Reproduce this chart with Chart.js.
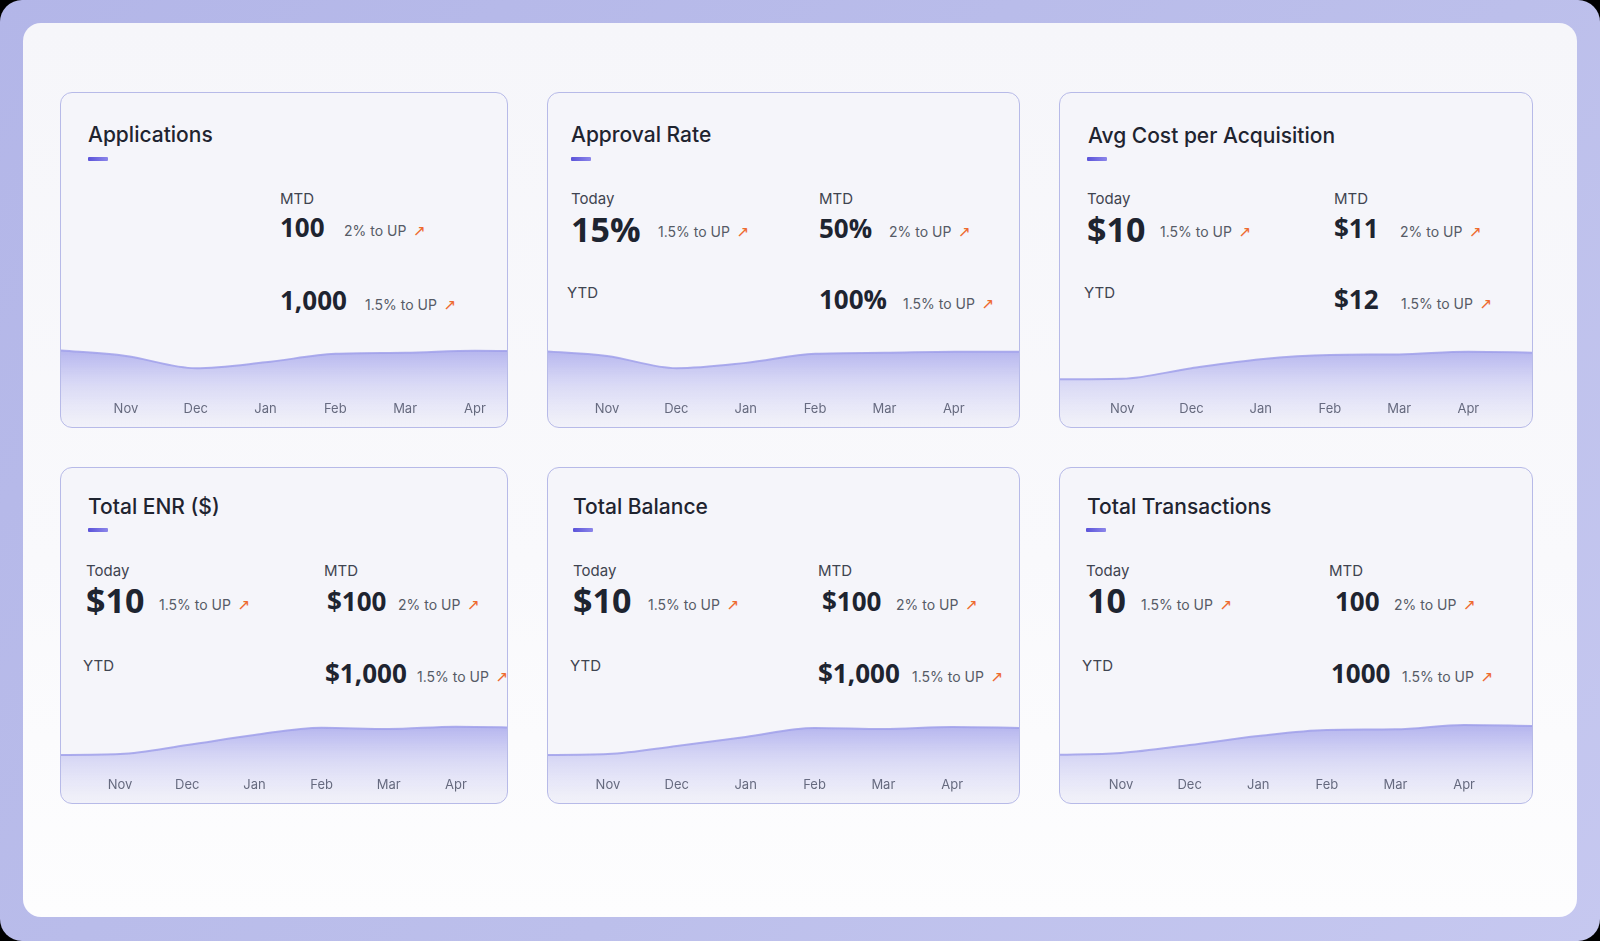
<!DOCTYPE html>
<html>
<head>
<meta charset="utf-8">
<script src="https://cdn.jsdelivr.net/npm/chart.js@4/dist/chart.umd.min.js"></script>
<style>
    html, body { margin: 0; padding: 0; background: #000; }
    .frame {
        position: relative; width: 1600px; height: 941px; overflow: hidden;
        border-radius: 22px;
        background: linear-gradient(135deg, #b3b6e8 0%, #bcbfeb 60%, #c6c8f0 100%);
    }
    .panel {
        position: absolute; left: 23px; top: 23px; width: 1554px; height: 894px;
        border-radius: 18px;
        background: linear-gradient(180deg, #f6f6fa 0%, #f9f9fc 60%, #fdfdfe 100%);
    }
    .card {
        position: absolute; box-sizing: border-box; overflow: hidden;
        border: 1px solid #b7bae8; border-radius: 12px;
        background: #f5f5fa;
    }
    .t { position: absolute; white-space: nowrap; line-height: 1; }
    .title { font: 500 21px Inter, sans-serif; color: #1f2430; margin-top: -2px; }
    .bar { position: absolute; width: 20px; height: 4px; border-radius: 1px;
        background: linear-gradient(90deg, #5b53d9, #8c86ea); }
    .lbl { font: 400 15px Inter, sans-serif; color: #3f4450; margin-top: -2px; }
    .big { font: 700 34px "Open Sans", sans-serif; color: #1e2430; margin-top: -6px; }
    .val { font: 700 26px "Open Sans", sans-serif; color: #1e2430; margin-top: -5px; }
    .chg { font: 400 14px Inter, sans-serif; color: #565b66; margin-top: -3px; }
    .arr { color: #ee6a2f; margin-left: 7px; font: 15px "DejaVu Sans", sans-serif; }
    .trend { position: absolute; left: 0; bottom: 0; width: 100%; height: 106px; }
</style>
</head>
<body>
<div class="frame">
    <div class="panel"></div>

    <!-- Applications -->
    <div class="card" style="left:60px;top:92px;width:448px;height:336px">
        <div class="t title" style="left:27px;top:31px">Applications</div>
        <div class="bar" style="left:27px;top:64px"></div>
        <div class="t lbl" style="left:219px;top:98px">MTD</div>
        <div class="t val" style="left:219px;top:121px">100</div>
        <div class="t chg" style="left:283px;top:132px">2% to UP<span class="arr">↗</span></div>
        <div class="t val" style="left:219px;top:194px">1,000</div>
        <div class="t chg" style="left:304px;top:206px">1.5% to UP<span class="arr">↗</span></div>
        <div class="trend"><canvas id="chartApplications"></canvas></div>
    </div>

    <!-- Approval Rate -->
    <div class="card" style="left:547px;top:92px;width:473px;height:336px">
        <div class="t title" style="left:23px;top:31px">Approval Rate</div>
        <div class="bar" style="left:23px;top:64px"></div>
        <div class="t lbl" style="left:23px;top:98px">Today</div>
        <div class="t big" style="left:23px;top:119px">15%</div>
        <div class="t chg" style="left:110px;top:133px">1.5% to UP<span class="arr">↗</span></div>
        <div class="t lbl" style="left:271px;top:98px">MTD</div>
        <div class="t val" style="left:271px;top:122px">50%</div>
        <div class="t chg" style="left:341px;top:133px">2% to UP<span class="arr">↗</span></div>
        <div class="t lbl" style="left:19px;top:192px">YTD</div>
        <div class="t val" style="left:271px;top:193px">100%</div>
        <div class="t chg" style="left:355px;top:205px">1.5% to UP<span class="arr">↗</span></div>
        <div class="trend"><canvas id="chartApproval"></canvas></div>
    </div>

    <!-- Avg Cost per Acquisition -->
    <div class="card" style="left:1059px;top:92px;width:474px;height:336px">
        <div class="t title" style="left:28px;top:32px">Avg Cost per Acquisition</div>
        <div class="bar" style="left:27px;top:64px"></div>
        <div class="t lbl" style="left:27px;top:98px">Today</div>
        <div class="t big" style="left:27px;top:119px">$10</div>
        <div class="t chg" style="left:100px;top:133px">1.5% to UP<span class="arr">↗</span></div>
        <div class="t lbl" style="left:274px;top:98px">MTD</div>
        <div class="t val" style="left:274px;top:122px">$11</div>
        <div class="t chg" style="left:340px;top:133px">2% to UP<span class="arr">↗</span></div>
        <div class="t lbl" style="left:24px;top:192px">YTD</div>
        <div class="t val" style="left:274px;top:193px">$12</div>
        <div class="t chg" style="left:341px;top:205px">1.5% to UP<span class="arr">↗</span></div>
        <div class="trend"><canvas id="chartCpa"></canvas></div>
    </div>

    <!-- Total ENR ($) -->
    <div class="card" style="left:60px;top:467px;width:448px;height:337px">
        <div class="t title" style="left:27px;top:28px">Total ENR ($)</div>
        <div class="bar" style="left:27px;top:60px"></div>
        <div class="t lbl" style="left:25px;top:95px">Today</div>
        <div class="t big" style="left:25px;top:115px">$10</div>
        <div class="t chg" style="left:98px;top:131px">1.5% to UP<span class="arr">↗</span></div>
        <div class="t lbl" style="left:263px;top:95px">MTD</div>
        <div class="t val" style="left:266px;top:120px">$100</div>
        <div class="t chg" style="left:337px;top:131px">2% to UP<span class="arr">↗</span></div>
        <div class="t lbl" style="left:22px;top:190px">YTD</div>
        <div class="t val" style="left:264px;top:192px">$1,000</div>
        <div class="t chg" style="left:356px;top:203px">1.5% to UP<span class="arr">↗</span></div>
        <div class="trend"><canvas id="chartEnr"></canvas></div>
    </div>

    <!-- Total Balance -->
    <div class="card" style="left:547px;top:467px;width:473px;height:337px">
        <div class="t title" style="left:25px;top:28px">Total Balance</div>
        <div class="bar" style="left:25px;top:60px"></div>
        <div class="t lbl" style="left:25px;top:95px">Today</div>
        <div class="t big" style="left:25px;top:115px">$10</div>
        <div class="t chg" style="left:100px;top:131px">1.5% to UP<span class="arr">↗</span></div>
        <div class="t lbl" style="left:270px;top:95px">MTD</div>
        <div class="t val" style="left:274px;top:120px">$100</div>
        <div class="t chg" style="left:348px;top:131px">2% to UP<span class="arr">↗</span></div>
        <div class="t lbl" style="left:22px;top:190px">YTD</div>
        <div class="t val" style="left:270px;top:192px">$1,000</div>
        <div class="t chg" style="left:364px;top:203px">1.5% to UP<span class="arr">↗</span></div>
        <div class="trend"><canvas id="chartBalance"></canvas></div>
    </div>

    <!-- Total Transactions -->
    <div class="card" style="left:1059px;top:467px;width:474px;height:337px">
        <div class="t title" style="left:27px;top:28px">Total Transactions</div>
        <div class="bar" style="left:26px;top:60px"></div>
        <div class="t lbl" style="left:26px;top:95px">Today</div>
        <div class="t big" style="left:27px;top:115px">10</div>
        <div class="t chg" style="left:81px;top:131px">1.5% to UP<span class="arr">↗</span></div>
        <div class="t lbl" style="left:269px;top:95px">MTD</div>
        <div class="t val" style="left:275px;top:120px">100</div>
        <div class="t chg" style="left:334px;top:131px">2% to UP<span class="arr">↗</span></div>
        <div class="t lbl" style="left:22px;top:190px">YTD</div>
        <div class="t val" style="left:271px;top:192px">1000</div>
        <div class="t chg" style="left:342px;top:203px">1.5% to UP<span class="arr">↗</span></div>
        <div class="trend"><canvas id="chartTransactions"></canvas></div>
    </div>
</div>

<script>
// Month labels shown under each sparkline
const months = ['Nov', 'Dec', 'Jan', 'Feb', 'Mar', 'Apr'];

// Trend values, Oct .. May (Oct and May run off the card edges)
const applicationsTrend = [72.5, 67, 55.5, 61, 69, 70, 72, 71];
const approvalTrend     = [72, 67, 55.5, 60.5, 69, 70, 71, 71];
const cpaTrend          = [45, 45.5, 55.5, 64, 68, 68.5, 71, 70];
const enrTrend          = [45.3, 46.2, 54.7, 64.2, 71, 69.8, 72, 71];
const balanceTrend      = [45.3, 46.2, 53.8, 62.3, 70.8, 69.8, 71.7, 70.8];
const transactionsTrend = [45.3, 47.2, 54.7, 63.2, 68.9, 69.5, 73.6, 72.6];

// Build a sparkline; xMin/xMax place the month ticks inside the card
function makeTrend(id, values, xMin, xMax) {
    const ctx = document.getElementById(id).getContext('2d');
    const points = values.map((v, i) => ({ x: i - 1, y: v }));

    return new Chart(ctx, {
        type: 'line',
        data: {
            datasets: [{
                data: points,
                fill: 'start',
                borderColor: 'rgba(160, 160, 234, 0.85)',
                borderWidth: 2,
                pointRadius: 0,
                cubicInterpolationMode: 'monotone',
                backgroundColor: (c) => {
                    const area = c.chart.chartArea;
                    if (!area) return 'rgba(150,150,232,0.4)';
                    const g = c.chart.ctx.createLinearGradient(0, area.top + 24, 0, area.bottom);
                    g.addColorStop(0, 'rgba(148, 148, 232, 0.72)');
                    g.addColorStop(0.45, 'rgba(160, 160, 236, 0.35)');
                    g.addColorStop(1, 'rgba(190, 190, 242, 0.06)');
                    return g;
                }
            }]
        },
        options: {
            responsive: true,
            maintainAspectRatio: false,
            animation: false,
            layout: { padding: 0 },
            plugins: {
                legend: { display: false },
                tooltip: { enabled: false }
            },
            scales: {
                x: {
                    type: 'linear',
                    min: xMin,
                    max: xMax,
                    z: 1,
                    grid: { display: false, drawTicks: false },
                    border: { display: false },
                    // labels sit on top of the fill, so the axis takes no room
                    afterFit: (scale) => { scale.height = 0; },
                    ticks: {
                        mirror: true,
                        stepSize: 1,
                        includeBounds: false,
                        autoSkip: false,
                        maxRotation: 0,
                        padding: 10,
                        color: '#555a66',
                        font: { family: 'Inter', size: 13 },
                        callback: (v) => months[v] || ''
                    }
                },
                y: {
                    display: false,
                    min: 0,
                    max: 100
                }
            }
        }
    });
}

makeTrend('chartApplications', applicationsTrend, -0.93, 5.46);
makeTrend('chartApproval', approvalTrend, -0.85, 5.94);
makeTrend('chartCpa', cpaTrend, -0.9, 5.92);
makeTrend('chartEnr', enrTrend, -0.88, 5.76);
makeTrend('chartBalance', balanceTrend, -0.87, 5.97);
makeTrend('chartTransactions', transactionsTrend, -0.89, 5.99);
</script>
</body>
</html>
